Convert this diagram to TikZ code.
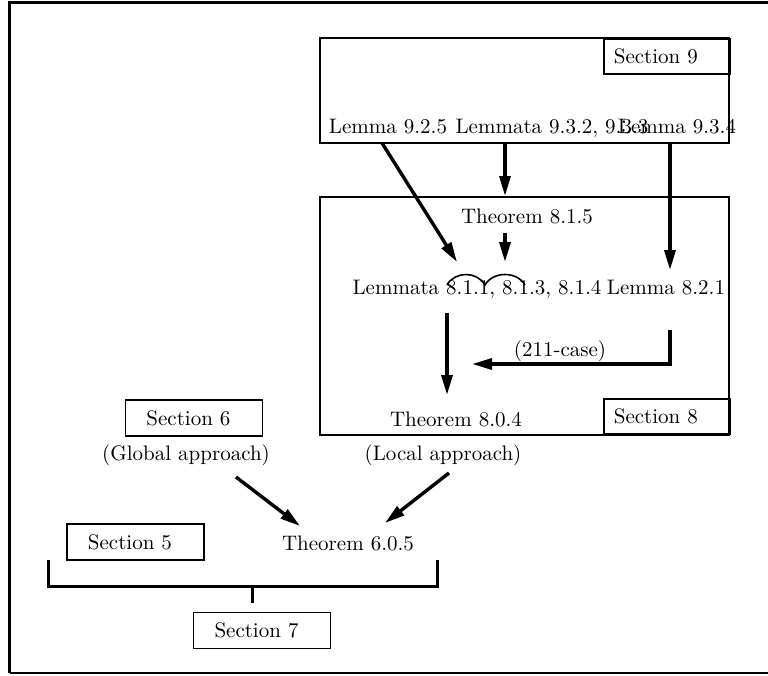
\documentclass[tikz,border=0pt]{standalone}
\usetikzlibrary{arrows.meta}
\begin{document}
\begin{tikzpicture}[x=0.5pt,y=-0.5pt,
 every node/.style={font=\fontsize{10.5}{12.6}\selectfont, inner sep=0pt},
 box/.style={draw, line width=0.9pt},
 secbox/.style={draw, line width=0.9pt, minimum height=18pt, inner xsep=10.5pt, text width=47.5pt, align=left},
 tag/.style={draw, line width=0.9pt, anchor=north west, minimum height=17.5pt, inner xsep=5pt, text width=53pt, align=left},
 arr/.style={line width=1.7pt, -{Triangle[length=10pt,width=5.5pt]}},
 bracket/.style={line width=1.5pt},
 lbl/.style={anchor=base}]
\useasboundingbox (0,0) rectangle (768,676);
% frame
\draw[line width=1.5pt] (768,2) -- (9.5,2) -- (9.5,673);
\draw[line width=0.8pt] (9.5,673) -- (768,673);
% section 9 and 8 boxes
\node[box, minimum width=204.5pt, minimum height=52.5pt] (s9) at (524.5,90.5) {};
\node[tag] (s9tag) at (603,38) {Section 9};
\node[box, minimum width=204.5pt, minimum height=119pt] (s8) at (524.5,316) {};
\node[tag, anchor=south west] (s8tag) at (603,435) {Section 8};
% texts
\node[lbl] (l925) at (388,133) {Lemma 9.2.5};
\node[lbl] (l932) at (552,133) {Lemmata 9.3.2, 9.3.3};
\node[lbl] (l934) at (677,133) {Lemma 9.3.4};
\node[lbl] (t815) at (527,223) {Theorem 8.1.5};
\node[lbl] (l811) at (477,294) {Lemmata 8.1.1, 8.1.3, 8.1.4};
\node[lbl] (l821) at (666,294) {Lemma 8.2.1};
\node[lbl] (case) at (560,356) {(211-case)};
\node[lbl] (t804) at (456,426) {Theorem 8.0.4};
\node[secbox] (s6) at (194,418) {Section 6};
\node[lbl] (glob) at (186,460) {(Global approach)};
\node[lbl] (loc) at (443,460) {(Local approach)};
\node[secbox] (s5) at (135.5,542) {Section 5};
\node[lbl] (t605) at (348,550) {Theorem 6.0.5};
\node[secbox] (s7) at (262,630.5) {Section 7};
% connector end points
\coordinate (a1s) at (382,143); \coordinate (a1e) at (457,262);
\coordinate (a2s) at (505,143); \coordinate (a2e) at (505,196);
\coordinate (a3s) at (505,233); \coordinate (a3e) at (505,262);
\coordinate (a4s) at (670,143); \coordinate (a4e) at (670,270);
\coordinate (a5s) at (447,313); \coordinate (a5e) at (447,395);
\coordinate (a6s) at (670,330); \coordinate (a6m) at (670,364); \coordinate (a6e) at (472,364);
\coordinate (a7s) at (236,477); \coordinate (a7e) at (300,526);
\coordinate (a8s) at (449,473); \coordinate (a8e) at (385,523);
% arrows
\draw[arr] (a1s) -- (a1e);
\draw[arr] (a2s) -- (a2e);
\draw[arr] (a3s) -- (a3e);
\draw[arr] (a4s) -- (a4e);
\draw[arr] (a5s) -- (a5e);
\draw[arr] (a6s) -- (a6m) -- (a6e);
\draw[arr] (a7s) -- (a7e);
\draw[arr] (a8s) -- (a8e);
% arcs over lemmata
\draw[line width=0.8pt] (447,285) .. controls (455,271) and (477,271) .. (485,285)
  .. controls (493,271) and (517,271) .. (525,285);
% bracket
\coordinate (bl) at (48,560); \coordinate (br) at (437,560);
\coordinate (bm) at (252,586); \coordinate (bt) at (252,603);
\draw[bracket] (bl) -- (48,586) -- (437,586) -- (br);
\draw[bracket] (bm) -- (bt);
\end{tikzpicture}
\end{document}
